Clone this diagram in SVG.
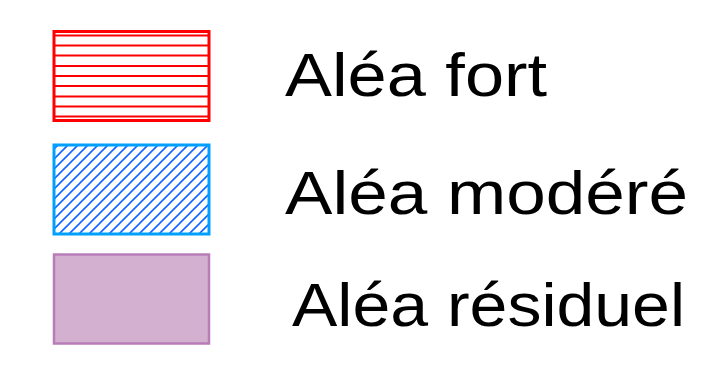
<svg xmlns="http://www.w3.org/2000/svg" width="725" height="382" viewBox="0 0 725 382">
<style>
.lbl{font-family:"Liberation Sans",Arial,sans-serif;font-size:62px;fill:#000}
.rl{stroke:#FF0000;stroke-width:2}
</style>
<defs>
<pattern id="hatch" patternUnits="userSpaceOnUse" width="10" height="10" x="0" y="3">
<path d="M0,10 L10,0 M-2.5,2.5 L2.5,-2.5 M7.5,12.5 L12.5,7.5" stroke="#1464FF" stroke-width="1.6"/>
</pattern>
</defs>
<rect width="725" height="382" fill="#fff"/>
<g id="fort">
<rect x="54" y="31.5" width="155" height="89" fill="#fff" stroke="#FF0000" stroke-width="3"/>
<g class="rl">
<line x1="54" y1="35.5" x2="209" y2="35.5"/>
<line x1="54" y1="45.5" x2="209" y2="45.5"/>
<line x1="54" y1="55.5" x2="209" y2="55.5"/>
<line x1="54" y1="66" x2="209" y2="66"/>
<line x1="54" y1="76" x2="209" y2="76"/>
<line x1="54" y1="86" x2="209" y2="86"/>
<line x1="54" y1="96.5" x2="209" y2="96.5"/>
<line x1="54" y1="106.5" x2="209" y2="106.5"/>
<line x1="54" y1="116.5" x2="209" y2="116.5"/>
</g>
<text class="lbl" x="285" y="96" textLength="262" lengthAdjust="spacingAndGlyphs">Aléa fort</text>
</g>
<g id="modere">
<rect x="54" y="145" width="155" height="89" fill="#fff"/>
<rect x="54" y="145" width="155" height="89" fill="url(#hatch)" stroke="#00A0FF" stroke-width="3"/>
<text class="lbl" x="285" y="214" textLength="403" lengthAdjust="spacingAndGlyphs">Aléa modéré</text>
</g>
<g id="residuel">
<rect x="54" y="254.5" width="155" height="89" fill="#D4B0D0" stroke="#B87DB8" stroke-width="2.5"/>
<text class="lbl" x="292" y="326" textLength="393" lengthAdjust="spacingAndGlyphs">Aléa résiduel</text>
</g>
</svg>
